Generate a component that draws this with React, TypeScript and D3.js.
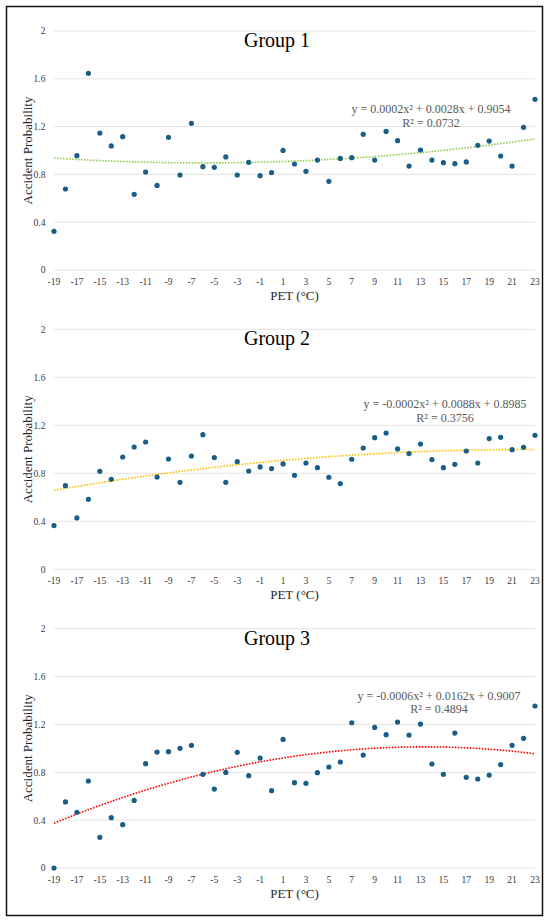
import React from "react";
import * as d3 from "d3";

// ---- Data ----
const pet: number[] = d3.range(-19, 24); // -19 .. 23
const xTicks: number[] = d3.range(-19, 24, 2);
const yTicks: number[] = [0, 0.4, 0.8, 1.2, 1.6, 2];
const groupNames: string[] = ["Group 1", "Group 2", "Group 3"];

const group1: number[] = [
  0.324, 0.678, 0.957, 1.646, 1.146, 1.038, 1.116, 0.633, 0.82, 0.708,
  1.11, 0.795, 1.227, 0.865, 0.859, 0.946, 0.795, 0.901, 0.789, 0.815,
  1.001, 0.887, 0.826, 0.92, 0.742, 0.934, 0.94, 1.135, 0.92, 1.16,
  1.082, 0.87, 1.004, 0.92, 0.898, 0.89, 0.904, 1.043, 1.079, 0.954,
  0.87, 1.194, 1.428,
];
const group2: number[] = [
  0.364, 0.697, 0.428, 0.583, 0.817, 0.75, 0.936, 1.019, 1.061, 0.769,
  0.919, 0.725, 0.944, 1.122, 0.931, 0.725, 0.897, 0.819, 0.853, 0.839,
  0.878, 0.783, 0.886, 0.847, 0.767, 0.714, 0.917, 1.011, 1.097, 1.136,
  1.003, 0.964, 1.044, 0.914, 0.847, 0.875, 0.986, 0.886, 1.089, 1.1,
  0.997, 1.017, 1.117,
];
const group3: number[] = [
  0.0, 0.552, 0.465, 0.727, 0.256, 0.421, 0.362, 0.565, 0.872, 0.969,
  0.972, 1.0, 1.025, 0.783, 0.66, 0.799, 0.967, 0.772, 0.919, 0.646,
  1.075, 0.713, 0.708, 0.797, 0.844, 0.886, 1.214, 0.944, 1.175, 1.114,
  1.22, 1.111, 1.203, 0.869, 0.783, 1.128, 0.758, 0.744, 0.777, 0.864,
  1.025, 1.084, 1.354,
];
const equations: string[] = [
  "y = 0.0002x\u00B2 + 0.0028x + 0.9054",
  "y = -0.0002x\u00B2 + 0.0088x + 0.8985",
  "y = -0.0006x\u00B2 + 0.0162x + 0.9007",
];
const rSquared: string[] = ["R\u00B2 = 0.0732", "R\u00B2 = 0.3756", "R\u00B2 = 0.4894"];
const trendColors: string[] = ["#92D050", "#FFC000", "#FF0000"];

// ---- Layout ----
const W = 550;
const H = 923;
const X0 = 54;
const X1 = 535;
const panels = [
  { top: 31, bottom: 270, eqX: 431, eqY: 113.3 },
  { top: 329.3, bottom: 569.3, eqX: 445, eqY: 408.3 },
  { top: 628.7, bottom: 868, eqX: 439, eqY: 700 },
];
const FONT = "'Liberation Serif', 'Times New Roman', Times, serif";
const DOT = "#1a5d87";

function quadFit(xs: number[], ys: number[]): [number, number, number] {
  // least squares y = a x^2 + b x + c
  let s0 = 0, s1 = 0, s2 = 0, s3 = 0, s4 = 0, t0 = 0, t1 = 0, t2 = 0;
  xs.forEach((x, i) => {
    const y = ys[i];
    s0 += 1; s1 += x; s2 += x * x; s3 += x * x * x; s4 += x * x * x * x;
    t0 += y; t1 += x * y; t2 += x * x * y;
  });
  const M = [
    [s4, s3, s2, t2],
    [s3, s2, s1, t1],
    [s2, s1, s0, t0],
  ];
  for (let i = 0; i < 3; i++) {
    for (let k = i + 1; k < 3; k++) {
      const f = M[k][i] / M[i][i];
      for (let j = i; j < 4; j++) M[k][j] -= f * M[i][j];
    }
  }
  const r = [0, 0, 0];
  for (let i = 2; i >= 0; i--) {
    let s = M[i][3];
    for (let j = i + 1; j < 3; j++) s -= M[i][j] * r[j];
    r[i] = s / M[i][i];
  }
  return [r[0], r[1], r[2]];
}

function Panel({ idx, values }: { idx: number; values: number[] }) {
  const p = panels[idx];
  const x = d3.scaleLinear().domain([-19, 23]).range([X0, X1]);
  const y = d3.scaleLinear().domain([0, 2]).range([p.bottom, p.top]);
  const [a, b, c] = quadFit(pet, values);
  const samples = d3.range(-19, 23.001, 0.25);
  const line = d3
    .line<number>()
    .x((d) => x(d))
    .y((d) => y(a * d * d + b * d + c));
  const midY = (p.top + p.bottom) / 2;
  return (
    <g>
      {yTicks.map((t) => (
        <g key={t}>
          <line x1={X0} x2={X1} y1={y(t)} y2={y(t)} stroke="#e4e4e4" strokeWidth={1} />
          <text
            x={45.5}
            y={y(t) + 3.4}
            textAnchor="end"
            fontSize={9.6}
            fill="#404040"
            fontFamily={FONT}
          >
            {t}
          </text>
        </g>
      ))}
      {xTicks.map((t) => (
        <text
          key={t}
          x={x(t)}
          y={p.bottom + 14.8}
          textAnchor="middle"
          fontSize={9.6}
          fill="#404040"
          fontFamily={FONT}
        >
          {t}
        </text>
      ))}
      <text
        x={277}
        y={p.top + 16}
        textAnchor="middle"
        fontSize={20}
        fill="#000"
        fontFamily={FONT}
      >
        {groupNames[idx]}
      </text>
      <text
        transform={`translate(31.5,${midY}) rotate(-90)`}
        textAnchor="middle"
        fontSize={13}
        fill="#262626"
        fontFamily={FONT}
      >
        Accident Probability
      </text>
      <text
        x={(X0 + X1) / 2}
        y={p.bottom + 30}
        textAnchor="middle"
        fontSize={13}
        fill="#262626"
        fontFamily={FONT}
      >
        PET (°C)
      </text>
      <path
        d={line(samples) || ""}
        fill="none"
        stroke={trendColors[idx]}
        strokeWidth={1.6}
        strokeDasharray="1.6 1.4"
      />
      {values.map((v, i) => (
        <circle key={i} cx={x(pet[i])} cy={y(v)} r={2.6} fill={DOT} />
      ))}
      <text
        x={p.eqX}
        y={p.eqY}
        textAnchor="middle"
        fontSize={12}
        fill="#595959"
        fontFamily={FONT}
      >
        {equations[idx]}
      </text>
      <text
        x={p.eqX}
        y={p.eqY + 13.4}
        textAnchor="middle"
        fontSize={12}
        fill="#595959"
        fontFamily={FONT}
      >
        {rSquared[idx]}
      </text>
    </g>
  );
}

export default function App() {
  const all = [group1, group2, group3];
  return (
    <svg
      width={W}
      height={H}
      style={{ position: "absolute", left: 0, top: 0, display: "block", background: "#fff" }}
    >
      <rect x={0} y={0} width={W} height={H} fill="#fff" />
      {all.map((vals, i) => (
        <Panel key={i} idx={i} values={vals} />
      ))}
      <rect x={6.5} y={6.5} width={536} height={909} fill="none" stroke="#111" strokeWidth={1.5} />
    </svg>
  );
}
